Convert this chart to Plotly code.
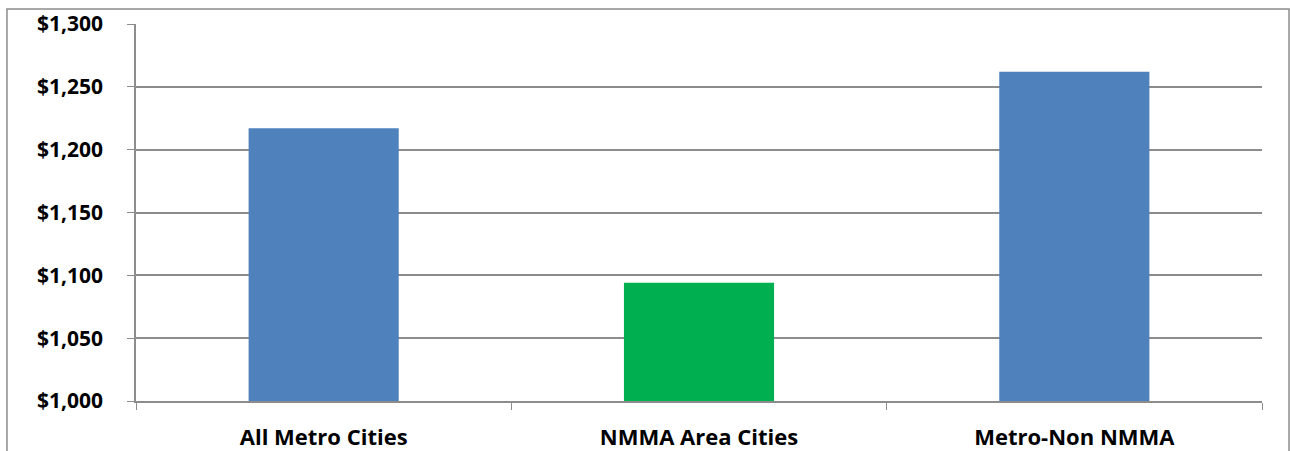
import plotly.graph_objects as go

categories = ["All Metro Cities", "NMMA Area Cities", "Metro-Non NMMA"]
values = [1217, 1094, 1262]
bar_colors = ["#4F81BD", "#00B050", "#4F81BD"]
y_ticks = [1000, 1050, 1100, 1150, 1200, 1250, 1300]
y_tick_labels = ["$1,000", "$1,050", "$1,100", "$1,150", "$1,200", "$1,250", "$1,300"]

FONT = "Open Sans"
GRID = "#8c8c8c"

fig = go.Figure(go.Bar(
    x=categories,
    y=values,
    marker=dict(color=bar_colors, line=dict(width=0)),
    hoverinfo="x+y",
))

fig.update_layout(
    width=1290,
    height=451,
    plot_bgcolor="white",
    paper_bgcolor="white",
    bargap=0.6,
    showlegend=False,
    margin=dict(l=136, r=28, t=24, b=50, autoexpand=False),
    font=dict(family=FONT, size=21, color="black"),
)

fig.update_yaxes(
    range=[1000, 1300],
    tickvals=y_ticks,
    ticktext=y_tick_labels,
    showgrid=True,
    gridcolor=GRID,
    gridwidth=1.5,
    showline=True,
    linecolor=GRID,
    linewidth=1.5,
    ticks="outside",
    ticklen=7,
    tickcolor=GRID,
    tickfont=dict(family=FONT, size=21, color="black", weight="bold"),
    ticklabelstandoff=20,
    zeroline=False,
    automargin=False,
)

fig.update_xaxes(
    showline=True,
    linecolor=GRID,
    linewidth=1.5,
    ticks="outside",
    tickson="boundaries",
    ticklen=7,
    tickcolor=GRID,
    tickfont=dict(family=FONT, size=22, color="black", weight="bold"),
    ticklabelstandoff=16,
    automargin=False,
)

# outer chart frame
fig.add_shape(
    type="rect", xref="paper", yref="paper",
    x0=-0.1146, x1=1.024, y0=-0.3, y1=1.0398,
    line=dict(color=GRID, width=1.5),
    layer="below",
)

fig.write_html(
    "out.html",
    config={"displayModeBar": False},
    post_script="document.body.style.margin='0';",
)
